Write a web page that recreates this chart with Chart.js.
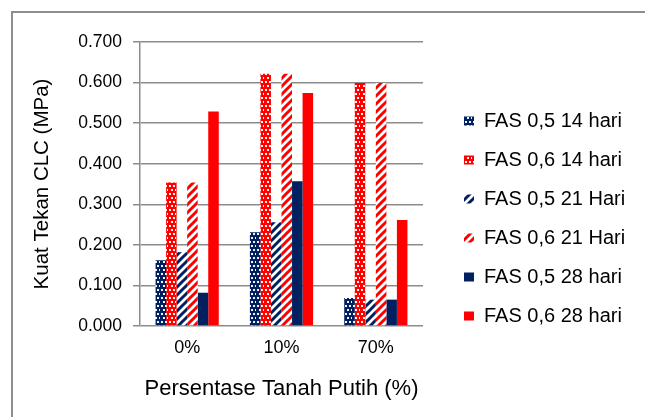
<!DOCTYPE html>
<html>
<head>
<meta charset="utf-8">
<script src="https://cdn.jsdelivr.net/npm/chart.js@4/dist/chart.umd.min.js"></script>
<style>
  body { margin: 0; background: #fff; overflow: hidden; }
  #frame { position: absolute; left: 11px; top: 11px; width: 700px; height: 500px;
           border-left: 2px solid #8e8e8e; border-top: 2px solid #8e8e8e; }
  #wrap { position: absolute; left: 0; top: 0; width: 645px; height: 417px; }
</style>
</head>
<body>
<div id="frame"></div>
<div id="wrap"><canvas id="chart" width="645" height="417"></canvas></div>
<script>
// categories on the x axis
const categories = ["0%", "10%", "70%"];
// series names
const seriesNames = [
    "FAS 0,5 14 hari",
    "FAS 0,6 14 hari",
    "FAS 0,5 21 Hari",
    "FAS 0,6 21 Hari",
    "FAS 0,5 28 hari",
    "FAS 0,6 28 hari",
];
// values (MPa)
const fas05_14 = [0.162, 0.231, 0.069];
const fas06_14 = [0.354, 0.622, 0.599];
const fas05_21 = [0.182, 0.256, 0.065];
const fas06_21 = [0.354, 0.622, 0.599];
const fas05_28 = [0.082, 0.357, 0.065];
const fas06_28 = [0.529, 0.574, 0.261];
const yTicks = [0, 0.1, 0.2, 0.3, 0.4, 0.5, 0.6, 0.7];

const NAVY = "#002060";
const RED = "#ff0000";

// fill patterns like the excel ones
function dotPattern(color) {
    const c = document.createElement("canvas");
    c.width = 8; c.height = 8;
    const x = c.getContext("2d");
    x.fillStyle = color;
    x.fillRect(0, 0, 8, 8);
    x.fillStyle = "rgba(255,255,255,0.95)";
    [[1, 1], [5, 1], [3, 5], [7, 5]].forEach(([px, py]) => x.fillRect(px, py, 2, 2));
    return x.createPattern(c, "repeat");
}
function stripePattern(color) {
    const c = document.createElement("canvas");
    c.width = 8; c.height = 8;
    const x = c.getContext("2d");
    x.fillStyle = "#fff";
    x.fillRect(0, 0, 8, 8);
    x.strokeStyle = color;
    x.lineWidth = 3;
    x.lineCap = "square";
    [[-4, 4, 4, -4], [0, 8, 8, 0], [4, 12, 12, 4]].forEach(([a, b, cc, d]) => {
        x.beginPath(); x.moveTo(a, b); x.lineTo(cc, d); x.stroke();
    });
    return x.createPattern(c, "repeat");
}

const fills = [
    dotPattern(NAVY), dotPattern(RED),
    stripePattern(NAVY), stripePattern(RED),
    NAVY, RED,
];
const seriesValues = [fas05_14, fas06_14, fas05_21, fas06_21, fas05_28, fas06_28];

Chart.defaults.font.family = "'Liberation Sans', Arial, sans-serif";
Chart.defaults.color = "#000";

// move the legend to where it sits in the picture
const legendPlace = {
    id: "legendPlace",
    afterUpdate(chart) {
        const lg = chart.legend;
        const pad = lg.options.labels.padding;
        const itemH = lg.options.labels.font.size;
        const colH = lg.columnSizes[0].height;
        const dx = 464 - (lg.left + pad);
        const firstY = (lg.top + pad + lg.bottom - colH) / 2 + itemH / 2;
        const dy = 121 - firstY;
        lg.left += dx;
        lg.right = chart.width;
        lg.top += dy; lg.bottom += dy;
    }
};

const gridGrey = "#8c8c8c";

new Chart(document.getElementById("chart"), {
    type: "bar",
    plugins: [legendPlace],
    data: {
        labels: categories,
        datasets: seriesNames.map((name, i) => ({
            label: name,
            data: seriesValues[i],
            backgroundColor: fills[i],
            borderWidth: 0,
            categoryPercentage: 0.67,
            barPercentage: 1.0,
        })),
    },
    options: {
        responsive: false,
        animation: false,
        layout: { padding: { top: 42, right: 81, bottom: 0, left: 0 } },
        plugins: {
            tooltip: { enabled: false },
            legend: {
                position: "right",
                labels: {
                    boxWidth: 10,
                    boxHeight: 9,
                    padding: 19,
                    color: "#000",
                    font: { size: 20 },
                },
            },
        },
        scales: {
            x: {
                grid: { display: false, drawTicks: false },
                border: { display: false },
                ticks: { padding: 11, font: { size: 18 } },
                title: {
                    display: true,
                    text: "Persentase Tanah Putih (%)",
                    font: { size: 22 },
                    padding: { top: 0, bottom: 15 },
                },
                afterFit(scale) {
                    scale.height = 91;
                    scale.paddingLeft = 0;
                    scale.paddingRight = 0;
                },
            },
            y: {
                min: 0,
                max: 0.7,
                afterBuildTicks(scale) {
                    scale.ticks = yTicks.map((v) => ({ value: v }));
                },
                ticks: {
                    padding: 11,
                    font: { size: 17.5 },
                    callback: (v) => Number(v).toFixed(3),
                },
                grid: { color: gridGrey, lineWidth: 1.5, tickLength: 7 },
                border: { color: gridGrey, width: 1.5 },
                title: {
                    display: true,
                    text: "Kuat Tekan CLC (MPa)",
                    font: { size: 20.5 },
                    padding: { top: 30, bottom: 0 },
                },
                afterFit(scale) {
                    scale.width = 140;
                    scale.paddingTop = 0;
                    scale.paddingBottom = 0;
                },
            },
        },
    },
});
</script>
</body>
</html>
